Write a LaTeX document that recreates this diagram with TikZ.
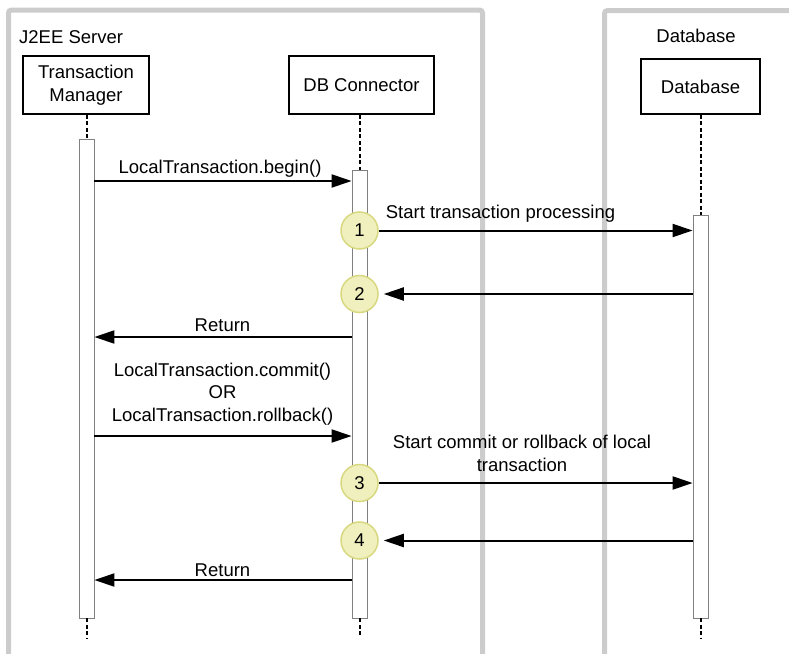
\documentclass[tikz,border=0pt]{standalone}
\usepackage{fontspec}
\setmainfont{Liberation Sans}
\usetikzlibrary{arrows.meta}
\definecolor{cfill}{HTML}{F0F0BE}
\definecolor{cline}{HTML}{D8D880}
\definecolor{framegray}{HTML}{CCCCCC}
\begin{document}
\begin{tikzpicture}[x=1pt,y=-1pt,
  every node/.style={font=\fontsize{18.5}{22.5}\selectfont, inner sep=0pt},
  frame/.style={draw=framegray, line width=5pt, rounded corners=3pt},
  actor/.style={draw=black, line width=1.5pt, minimum height=58pt, align=center, fill=white},
  bar/.style={draw=black!50, line width=0.8pt, fill=white, minimum width=15pt},
  life/.style={line width=2pt, dash pattern=on 4pt off 2.5pt},
  msg/.style={line width=2pt, -{Triangle[length=20pt,width=13pt]}},
  stepmark/.style={circle, draw=cline, fill=cfill, line width=1.5pt, minimum size=37pt},
  lbl/.style={align=center}
]
\useasboundingbox (0,0) rectangle (789,653);
\begin{scope}
\clip (0,0) rectangle (789,653);
% frames
\draw[frame] (8.5,700) -- (8.5,10) -- (482.5,10) -- (482.5,700);
\draw[frame] (604.5,700) -- (604.5,10.5) -- (820,10.5);
\end{scope}

\node[anchor=base west] (j2ee) at (19,43.5) {J2EE Server};
\node[anchor=base] (dbtitle) at (696,42) {Database};

% actors
\node[actor, minimum width=126pt] (tm) at (86,85) {Transaction\\Manager};
\node[actor, minimum width=145pt] (dbc) at (361.5,85) {DB Connector};
\node[actor, minimum width=119pt, minimum height=55pt] (db) at (700.5,86.5) {Database};

% activation bars
\node[bar, minimum height=479pt] (tmbar) at (86.5,378.5) {};
\node[bar, minimum height=448pt] (dbcbar) at (359.5,394) {};
\node[bar, minimum height=403pt] (dbbar) at (700.5,416.5) {};

% lifelines
\coordinate (tmend) at (86.5,638);
\coordinate (dbcend) at (359.5,637);
\coordinate (dbend) at (700.5,638);
\draw[life] (tm.south -| tmbar.north) -- (tmbar.north);
\draw[life] (tmbar.south) -- (tmend);
\draw[life] (dbc.south -| dbcbar.north) -- (dbcbar.north);
\draw[life] (dbcbar.south) -- (dbcend);
\draw[life] (db.south) -- (dbbar.north);
\draw[life] (dbbar.south) -- (dbend);

% step marks
\node[stepmark] (c1) at (359.5,230.5) {1};
\node[stepmark] (c2) at (359.5,294) {2};
\node[stepmark] (c3) at (359.5,483) {3};
\node[stepmark] (c4) at (359.5,540.5) {4};

% message levels
\coordinate (y1) at (0,181);
\coordinate (y4) at (0,337);
\coordinate (y5) at (0,436);
\coordinate (y8) at (0,580);

% messages
\draw[msg] (tmbar.east |- y1) -- (dbcbar.west |- y1);
\node[anchor=base] (l1) at (220,173.5) {LocalTransaction.begin()};

\draw[msg] (c1.east) -- (dbbar.west |- c1);
\node[anchor=base] (l2) at (500.5,218.5) {Start transaction processing};

\draw[msg, shorten >=5pt] (dbbar.west |- c2) -- (c2.east);

\draw[msg] (dbcbar.west |- y4) -- (tmbar.east |- y4);
\node[anchor=base] (l4) at (222.5,331) {Return};

\draw[msg] (tmbar.east |- y5) -- (dbcbar.west |- y5);
\node[lbl] (l5) at (222.5,394) {LocalTransaction.commit()\\OR\\LocalTransaction.rollback()};

\draw[msg] (c3.east) -- (dbbar.west |- c3);
\node[lbl] (l6) at (522,453.5) {Start commit or rollback of local\\transaction};

\draw[msg, shorten >=5pt] (dbbar.west |- c4) -- (c4.east);

\draw[msg] (dbcbar.west |- y8) -- (tmbar.east |- y8);
\node[anchor=base] (l8) at (222.5,576) {Return};
\end{tikzpicture}
\end{document}
